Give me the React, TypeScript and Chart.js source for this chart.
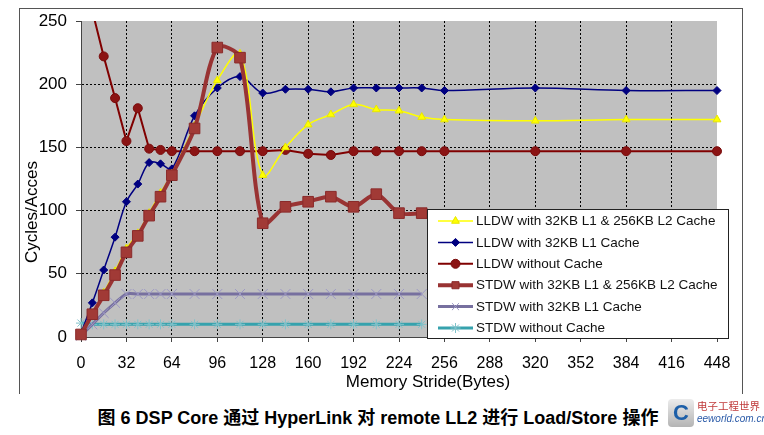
import React, { useEffect, useRef } from "react";
import { Chart, registerables } from "chart.js";

Chart.register(...registerables);

const strides = [0, 8, 16, 24, 32, 40, 48, 56, 64, 80, 96, 112, 128, 144, 160, 176, 192, 208, 224, 240, 256, 320, 384, 448];
const xTicks = [0, 32, 64, 96, 128, 160, 192, 224, 256, 288, 320, 352, 384, 416, 448];
const yTicks = [0, 50, 100, 150, 200, 250];

const seriesLabels = [
  "LLDW with 32KB L1 & 256KB L2 Cache",
  "LLDW with 32KB L1 Cache",
  "LLDW without Cache",
  "STDW with 32KB L1 & 256KB L2 Cache",
  "STDW with 32KB L1 Cache",
  "STDW without Cache",
];

const lldwL1L2 = [2, 17, 35, 52, 70, 82, 98, 114, 129, 167, 203, 224, 128, 150, 168, 176, 184, 180, 179, 174, 172, 171, 172, 172];
const lldwL1 = [3, 27, 53, 79, 107, 121, 138, 137, 133, 175, 197, 206, 193, 196, 196, 194, 197, 197, 197, 197, 195, 197, 195, 195];
const lldwNoCache = [null, 258, 222, 189, 155, 181, 149, 148, 147, 147, 147, 147, 147, 148, 145, 144, 147, 147, 147, 147, 147, 147, 147, 147];
const stdwL1L2 = [2, 18, 33, 49, 67, 80, 96, 111, 128, 165, 229, 221, 90, 103, 107, 111, 103, 113, 98, 98];
const stdwL1 = [1, 10, 19, 27, 34, 34, 34, 34, 34, 34, 34, 34, 34, 34, 34, 34, 34, 34, 34, 34];
const stdwNoCache = [11, 10, 10, 10, 10, 10, 10, 10, 10, 10, 10, 10, 10, 10, 10, 10, 10, 10, 10, 10];

const xTitle = "Memory Stride(Bytes)";
const yTitle = "Cycles/Acces";
const caption = "图 6 DSP Core 通过 HyperLink 对 remote LL2 进行 Load/Store 操作";

const FONT = "'Liberation Sans', Arial, 'Noto Sans CJK SC', sans-serif";

function pts(values: (number | null)[]) {
  const out: { x: number; y: number }[] = [];
  values.forEach((v, i) => {
    if (v !== null && v !== undefined) out.push({ x: strides[i], y: v });
  });
  return out;
}

function drawMarker(
  ctx: CanvasRenderingContext2D,
  style: string,
  x: number,
  y: number,
  r: number,
  fill: string,
  stroke: string,
  lw: number
) {
  ctx.save();
  ctx.fillStyle = fill;
  ctx.strokeStyle = stroke;
  ctx.lineWidth = lw;
  ctx.setLineDash([]);
  ctx.beginPath();
  const q = Math.PI / 4;
  switch (style) {
    case "circle":
      ctx.arc(x, y, r, 0, Math.PI * 2);
      ctx.fill();
      ctx.stroke();
      break;
    case "rectRot":
      ctx.moveTo(x, y - r);
      ctx.lineTo(x + r, y);
      ctx.lineTo(x, y + r);
      ctx.lineTo(x - r, y);
      ctx.closePath();
      ctx.fill();
      ctx.stroke();
      break;
    case "triangle": {
      let a = 0;
      ctx.moveTo(x + Math.sin(a) * r, y - Math.cos(a) * r);
      a += (2 * Math.PI) / 3;
      ctx.lineTo(x + Math.sin(a) * r, y - Math.cos(a) * r);
      a += (2 * Math.PI) / 3;
      ctx.lineTo(x + Math.sin(a) * r, y - Math.cos(a) * r);
      ctx.closePath();
      ctx.fill();
      ctx.stroke();
      break;
    }
    case "rect": {
      const s = r * Math.SQRT1_2;
      ctx.rect(x - s, y - s, 2 * s, 2 * s);
      ctx.fill();
      ctx.stroke();
      break;
    }
    case "crossRot": {
      const o = Math.cos(q) * r;
      ctx.moveTo(x - o, y - o);
      ctx.lineTo(x + o, y + o);
      ctx.moveTo(x - o, y + o);
      ctx.lineTo(x + o, y - o);
      ctx.stroke();
      break;
    }
    case "star": {
      const o = Math.cos(q) * r;
      ctx.moveTo(x - o, y - o);
      ctx.lineTo(x + o, y + o);
      ctx.moveTo(x - o, y + o);
      ctx.lineTo(x + o, y - o);
      ctx.moveTo(x - r, y);
      ctx.lineTo(x + r, y);
      ctx.moveTo(x, y - r);
      ctx.lineTo(x, y + r);
      ctx.stroke();
      break;
    }
  }
  ctx.restore();
}

const bgPlugin = {
  id: "bgPlugin",
  beforeDraw(chart: any) {
    const { ctx, chartArea } = chart;
    ctx.save();
    ctx.fillStyle = "#ffffff";
    ctx.fillRect(0, 0, chart.width, chart.height);
    ctx.fillStyle = "#c0c0c0";
    ctx.fillRect(chartArea.left, chartArea.top, chartArea.right - chartArea.left, chartArea.bottom - chartArea.top);
    ctx.restore();
  },
};

const titlesPlugin = {
  id: "titlesPlugin",
  afterDraw(chart: any) {
    const ctx = chart.ctx as CanvasRenderingContext2D;
    ctx.save();
    ctx.fillStyle = "#000";
    ctx.font = `17px ${FONT}`;
    ctx.textAlign = "center";
    ctx.textBaseline = "middle";
    ctx.fillText(xTitle, 428, 382);
    ctx.translate(32, 212);
    ctx.rotate(-Math.PI / 2);
    ctx.fillText(yTitle, 0, 0);
    ctx.restore();
  },
};

const legendPlugin = {
  id: "legendPlugin",
  afterDraw(chart: any) {
    const ctx = chart.ctx as CanvasRenderingContext2D;
    const left = 427;
    const top = 209;
    const w = 301;
    const h = 129;
    ctx.save();
    ctx.fillStyle = "#ffffff";
    ctx.fillRect(left, top, w, h);
    ctx.strokeStyle = "#222";
    ctx.lineWidth = 1;
    ctx.strokeRect(left + 0.5, top + 0.5, w, h);
    chart.data.datasets.forEach((ds: any, i: number) => {
      const y = 221 + i * 21.4;
      ctx.save();
      ctx.strokeStyle = ds.borderColor;
      ctx.lineWidth = ds.borderWidth;
      ctx.beginPath();
      ctx.moveTo(438, y);
      ctx.lineTo(473, y);
      ctx.stroke();
      ctx.restore();
      drawMarker(
        ctx,
        ds.pointStyle,
        455.5,
        y,
        Math.min(ds.pointRadius, 5),
        ds.pointBackgroundColor,
        ds.pointBorderColor,
        ds.pointBorderWidth
      );
      ctx.fillStyle = "#111";
      ctx.font = `13.5px ${FONT}`;
      ctx.textAlign = "left";
      ctx.textBaseline = "middle";
      ctx.fillText(ds.label, 476, y + 0.5);
    });
    ctx.restore();
  },
};

export default function App() {
  const canvasRef = useRef<HTMLCanvasElement | null>(null);

  useEffect(() => {
    if (!canvasRef.current) return;
    const edgeClip = { left: 10, top: 10, right: 10, bottom: 10 };
    const chart = new Chart(canvasRef.current, {
      type: "line",
      data: {
        datasets: [
          {
            label: seriesLabels[0],
            data: pts(lldwL1L2),
            borderColor: "#ffff00",
            backgroundColor: "#ffff00",
            borderWidth: 1.5,
            pointStyle: "triangle",
            pointRadius: 4.5,
            pointBackgroundColor: "#ffff00",
            pointBorderColor: "#e6e600",
            pointBorderWidth: 1,
            tension: 0.35,
            order: 1,
            clip: edgeClip,
          },
          {
            label: seriesLabels[1],
            data: pts(lldwL1),
            borderColor: "#000080",
            backgroundColor: "#000080",
            borderWidth: 1.5,
            pointStyle: "rectRot",
            pointRadius: 4,
            pointBackgroundColor: "#000080",
            pointBorderColor: "#000080",
            pointBorderWidth: 1,
            tension: 0.35,
            order: 2,
            clip: edgeClip,
          },
          {
            label: seriesLabels[2],
            data: pts(lldwNoCache),
            borderColor: "#800000",
            backgroundColor: "#8b1414",
            borderWidth: 2,
            pointStyle: "circle",
            pointRadius: 4.5,
            pointBackgroundColor: "#8b1414",
            pointBorderColor: "#7a0c0c",
            pointBorderWidth: 1,
            tension: 0,
            order: 3,
            clip: { left: 10, top: 0, right: 10, bottom: 10 },
          },
          {
            label: seriesLabels[3],
            data: pts(stdwL1L2),
            borderColor: "#993333",
            backgroundColor: "#a13a36",
            borderWidth: 4,
            pointStyle: "rect",
            pointRadius: 7.5,
            pointBackgroundColor: "#a13a36",
            pointBorderColor: "#8a2a2a",
            pointBorderWidth: 1,
            tension: 0.3,
            order: 0,
            clip: edgeClip,
          },
          {
            label: seriesLabels[4],
            data: pts(stdwL1),
            borderColor: "#77709f",
            backgroundColor: "#9c98c4",
            borderWidth: 3,
            pointStyle: "crossRot",
            pointRadius: 7,
            pointBackgroundColor: "#9c98c4",
            pointBorderColor: "#9c98c4",
            pointBorderWidth: 1,
            tension: 0.3,
            order: 4,
            clip: edgeClip,
          },
          {
            label: seriesLabels[5],
            data: pts(stdwNoCache),
            borderColor: "#36a2ad",
            backgroundColor: "#80c2ca",
            borderWidth: 3,
            pointStyle: "star",
            pointRadius: 5,
            pointBackgroundColor: "#80c2ca",
            pointBorderColor: "#80c2ca",
            pointBorderWidth: 1,
            tension: 0,
            order: 5,
            clip: edgeClip,
          },
        ],
      },
      options: {
        responsive: false,
        animation: false,
        layout: { padding: { left: 19, right: 47, top: 21, bottom: 0 } },
        plugins: {
          legend: { display: false },
          tooltip: { enabled: false },
          title: { display: false },
        },
        scales: {
          x: {
            type: "linear",
            min: 0,
            max: 448,
            afterBuildTicks: (s: any) => {
              s.ticks = xTicks.map((v) => ({ value: v }));
            },
            afterFit: (s: any) => {
              s.height = 63;
            },
            ticks: {
              autoSkip: false,
              maxRotation: 0,
              padding: 12,
              color: "#000",
              font: { family: FONT, size: 16 },
            },
            grid: {
              color: (c: any) =>
                c.tick && (c.tick.value === 0 || c.tick.value === 448) ? "rgba(0,0,0,0)" : "#000",
              lineWidth: 1,
              tickLength: 5,
              tickColor: "#444",
              tickWidth: 1,
            },
            border: { display: true, color: "#444", width: 1, dash: [2, 2] },
          },
          y: {
            type: "linear",
            min: 0,
            max: 250,
            afterBuildTicks: (s: any) => {
              s.ticks = yTicks.map((v) => ({ value: v }));
            },
            afterFit: (s: any) => {
              s.width = 62;
            },
            ticks: {
              padding: 9,
              color: "#000",
              font: { family: FONT, size: 17 },
            },
            grid: {
              color: (c: any) =>
                c.tick && (c.tick.value === 0 || c.tick.value === 250) ? "rgba(0,0,0,0)" : "#000",
              lineWidth: 1,
              tickLength: 5,
              tickColor: "#444",
              tickWidth: 1,
            },
            border: { display: true, color: "#444", width: 1, dash: [2, 2] },
          },
        },
      },
      plugins: [bgPlugin, titlesPlugin, legendPlugin],
    } as any);
    return () => chart.destroy();
  }, []);

  return (
    <div
      style={{
        position: "fixed",
        left: 0,
        top: 0,
        width: 764,
        height: 435,
        background: "#fff",
        overflow: "hidden",
      }}
    >
      <canvas
        ref={canvasRef}
        width={764}
        height={400}
        style={{ position: "absolute", left: 0, top: 0, width: 764, height: 400 }}
      />
      <div
        style={{
          position: "absolute",
          left: 19,
          top: 8,
          width: 722,
          height: 385,
          borderLeft: "1px solid #555",
          borderTop: "1px solid #555",
          borderRight: "1px solid #555",
          pointerEvents: "none",
        }}
      />
      <div
        style={{
          position: "absolute",
          left: 0,
          top: 408,
          width: 756,
          textAlign: "center",
          font: `bold 18px ${FONT}`,
          lineHeight: "20px",
          color: "#000",
          whiteSpace: "nowrap",
        }}
      >
        {caption}
      </div>
      <div
        style={{
          position: "absolute",
          left: 668,
          top: 399,
          width: 26,
          height: 28,
          borderRadius: 4,
          background: "linear-gradient(#ececec, #b4b4b4)",
          color: "#1d5fa8",
          font: `bold 22px ${FONT}`,
          lineHeight: "28px",
          textAlign: "center",
        }}
      >
        C
      </div>
      <div
        style={{
          position: "absolute",
          left: 697,
          top: 400,
          font: `10.5px 'Noto Sans CJK SC', sans-serif`,
          lineHeight: "12px",
          color: "#c03a3a",
          whiteSpace: "nowrap",
        }}
      >
        电子工程世界
      </div>
      <div
        style={{
          position: "absolute",
          left: 697,
          top: 413,
          font: `italic 10px ${FONT}`,
          lineHeight: "11px",
          color: "#2a5aa8",
          whiteSpace: "nowrap",
        }}
      >
        eeworld.com.cn
      </div>
    </div>
  );
}
